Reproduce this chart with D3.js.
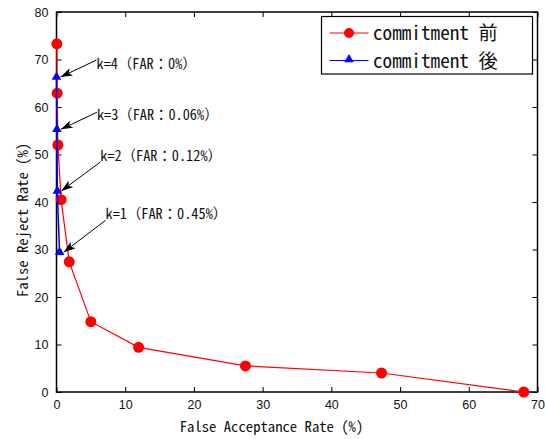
<!DOCTYPE html>
<html>
<head>
<meta charset="utf-8">
<script src="https://cdn.jsdelivr.net/npm/d3@7"></script>
<style>
  body { margin: 0; background: #fff; }
  .tick text { font-family: "Liberation Sans", Arial, sans-serif; font-size: 12.5px; fill: #111; }
  .mono { font-family: "Noto Sans Mono CJK JP", "MS Gothic", "DejaVu Sans Mono", monospace; fill: #111; }
</style>
</head>
<body>
<div id="chart"></div>
<script>
  'use strict';

  // data
  const beforeFar = [0.05, 0.1, 0.2, 0.67, 1.85, 5.0, 11.95, 27.5, 47.3, 68.0];
  const beforeFrr = [73.3, 62.9, 52.0, 40.5, 27.4, 14.8, 9.4, 5.5, 4.0, 0.0];
  const afterFar = [0, 0.06, 0.12, 0.45];
  const afterFrr = [66.1, 55.1, 42.1, 29.2];
  const kLabels = ['k=4（FAR：0%）', 'k=3（FAR：0.06%）', 'k=2（FAR：0.12%）', 'k=1（FAR：0.45%）'];
  const xTicks = [0, 10, 20, 30, 40, 50, 60, 70];
  const yTicks = [0, 10, 20, 30, 40, 50, 60, 70, 80];
  const seriesNames = ['commitment 前', 'commitment 後'];

  const size = { width: 545, height: 439 };
  const margin = { top: 12, right: 7.5, bottom: 47, left: 56.5 };
  const width = size.width - margin.left - margin.right;
  const height = size.height - margin.top - margin.bottom;

  const xScale = d3.scaleLinear().domain([0, 70]).range([0, width]);
  const yScale = d3.scaleLinear().domain([0, 80]).range([height, 0]);

  const svg = d3.select('#chart').append('svg')
    .attr('width', size.width)
    .attr('height', size.height);

  svg.append('defs').append('marker')
    .attr('id', 'arrow')
    .attr('viewBox', '0 0 12 8')
    .attr('refX', 12).attr('refY', 4)
    .attr('markerWidth', 12).attr('markerHeight', 8)
    .attr('markerUnits', 'userSpaceOnUse')
    .attr('orient', 'auto')
    .append('path')
    .attr('d', 'M0,0 L12,4 L0,8 L3,4 Z')
    .style('fill', '#000');

  const graph = svg.append('g')
    .attr('transform', 'translate(' + margin.left + ',' + margin.top + ')');

  // axes with inward ticks
  const xAxis = d3.axisBottom(xScale).tickValues(xTicks).tickSize(-5).tickPadding(8).tickSizeOuter(0);
  const yAxis = d3.axisLeft(yScale).tickValues(yTicks).tickSize(-5).tickPadding(8).tickSizeOuter(0);
  const xTop = d3.axisTop(xScale).tickValues(xTicks).tickSize(-5).tickFormat('').tickSizeOuter(0);
  const yRight = d3.axisRight(yScale).tickValues(yTicks).tickSize(-5).tickFormat('').tickSizeOuter(0);

  graph.append('g').attr('transform', 'translate(0,' + height + ')').call(xAxis);
  graph.append('g').call(yAxis);
  graph.append('g').call(xTop);
  graph.append('g').attr('transform', 'translate(' + width + ',0)').call(yRight);
  graph.selectAll('.domain').remove();
  graph.selectAll('.tick line').style('stroke', '#000');

  graph.append('rect')
    .attr('width', width).attr('height', height)
    .style('fill', 'none').style('stroke', '#000').style('stroke-width', 1.5);

  graph.append('text')
    .attr('class', 'mono')
    .attr('x', 215).attr('y', height + 40)
    .attr('text-anchor', 'middle')
    .style('font-size', '14.7px')
    .text('False Acceptance Rate (%)');

  graph.append('text')
    .attr('class', 'mono')
    .attr('transform', 'translate(' + (-29) + ',' + 208 + ') rotate(-90)')
    .attr('text-anchor', 'middle')
    .style('font-size', '14.7px')
    .text('False Reject Rate (%)');

  const before = beforeFar.map((x, i) => ({ x: x, y: beforeFrr[i] }));
  const after = afterFar.map((x, i) => ({ x: x, y: afterFrr[i] }));

  const line = d3.line().x(d => xScale(d.x)).y(d => yScale(d.y));
  const tri = d3.symbol().type(d3.symbolTriangle).size(40);

  graph.append('path').datum(before).attr('d', line)
    .style('fill', 'none').style('stroke', '#ff0000').style('stroke-width', 1.2);
  graph.selectAll('.dotBefore').data(before).enter().append('circle')
    .attr('class', 'dotBefore')
    .attr('cx', d => xScale(d.x)).attr('cy', d => yScale(d.y))
    .attr('r', 5.5).style('fill', '#ff0000');

  graph.append('path').datum(after).attr('d', line)
    .style('fill', 'none').style('stroke', '#0000ff').style('stroke-width', 1.5);
  graph.selectAll('.dotAfter').data(after).enter().append('path')
    .attr('class', 'dotAfter')
    .attr('transform', d => 'translate(' + xScale(d.x) + ',' + (yScale(d.y) - 1) + ')')
    .attr('d', tri).style('fill', '#0000ff');

  // annotations: text offset and arrow tail offset from the marker (px)
  const annotOffset = [
    { tx: 40, ty: -9, ax: 40, ay: -18 },
    { tx: 40, ty: -10, ax: 40, ay: -18 },
    { tx: 43, ty: -31, ax: 43, ay: -30 },
    { tx: 46, ty: -34, ax: 46, ay: -33 }
  ];
  after.forEach((d, i) => {
    const px = xScale(d.x), py = yScale(d.y);
    const o = annotOffset[i];
    graph.append('line')
      .attr('x1', px + o.ax).attr('y1', py + o.ay)
      .attr('x2', px + 4).attr('y2', py - 1)
      .attr('marker-end', 'url(#arrow)')
      .style('stroke', '#000').style('stroke-width', 1);
    graph.append('text')
      .attr('class', 'mono')
      .attr('x', px + o.tx).attr('y', py + o.ty)
      .style('font-size', '14.3px')
      .text(kLabels[i]);
  });

  // legend
  const legend = svg.append('g').attr('transform', 'translate(321.5,16.5)');
  legend.append('rect')
    .attr('width', 211).attr('height', 57.5)
    .style('fill', '#fff').style('stroke', '#000').style('stroke-width', 1.2);
  const colors = ['#ff0000', '#0000ff'];
  seriesNames.forEach((name, i) => {
    const ly = 16.5 + i * 27.5;
    legend.append('line')
      .attr('x1', 8).attr('x2', 47).attr('y1', ly).attr('y2', ly)
      .style('stroke', colors[i]).style('stroke-width', 1.2);
    if (i === 0) {
      legend.append('circle').attr('cx', 27.5).attr('cy', ly).attr('r', 5).style('fill', colors[i]);
    } else {
      legend.append('path').attr('transform', 'translate(27.5,' + (ly - 1) + ')')
        .attr('d', tri).style('fill', colors[i]);
    }
    legend.append('text')
      .attr('class', 'mono')
      .attr('x', 51.5).attr('y', ly + 7)
      .style('font-size', '19.2px')
      .text(name);
  });
</script>
</body>
</html>
